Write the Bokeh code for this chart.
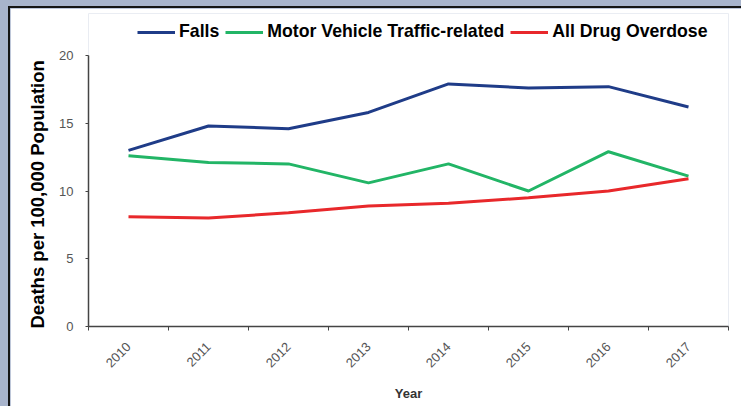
import math
from bokeh.plotting import figure
from bokeh.models import Range1d, FixedTicker, Legend, LegendItem, GlobalInlineStyleSheet, Title
from bokeh.embed import file_html
from bokeh.resources import INLINE

years = [2010, 2011, 2012, 2013, 2014, 2015, 2016, 2017]
falls = [13.0, 14.8, 14.6, 15.8, 17.9, 17.6, 17.7, 16.2]
motor_vehicle = [12.6, 12.1, 12.0, 10.6, 12.0, 10.0, 12.9, 11.1]
drug_overdose = [8.1, 8.0, 8.4, 8.9, 9.1, 9.5, 10.0, 10.9]
series_names = ["Falls", "Motor Vehicle Traffic-related", "All Drug Overdose"]
series_colors = ["#1f3c88", "#22b566", "#e8282b"]
y_ticks = [0, 5, 10, 15, 20]

css = GlobalInlineStyleSheet(css="""
html {
  background:
   linear-gradient(#151515,#151515) 8px 6px/2px 100% no-repeat,
   linear-gradient(#151515,#151515) 8px 6px/100% 2px no-repeat,
   #a8b4cc; }
body { background: transparent; }
""")

p = figure(width=731, height=398, margin=(8, 0, 0, 10),
           output_backend="svg", toolbar_location=None,
           x_range=Range1d(years[0] - 0.5, years[-1] + 0.5), y_range=Range1d(0, 23.1),
           min_border_left=78, min_border_right=13, min_border_top=5, min_border_bottom=80,
           background_fill_color="white", border_fill_color="white",
           stylesheets=[css])
p.outline_line_color = None
p.grid.visible = False

renderers = []
for vals, col in zip([falls, motor_vehicle, drug_overdose], series_colors):
    r = p.line(years, vals, line_color=col, line_width=3)
    renderers.append(r)

# x axis: labels at category centres, tick marks at category boundaries
xa = p.xaxis[0]
xa.ticker = FixedTicker(ticks=years, minor_ticks=[y - 0.5 for y in years] + [years[-1] + 0.5])
xa.major_tick_line_color = None
xa.major_tick_out = 0
xa.major_tick_in = 0
xa.minor_tick_line_color = "#444444"
xa.minor_tick_out = 4
xa.minor_tick_in = 0
xa.axis_line_color = "#444444"
xa.axis_line_width = 1.5
xa.major_label_orientation = math.pi / 4
xa.major_label_text_font = "Liberation Sans"
xa.major_label_text_font_size = "13px"
xa.major_label_text_color = "#555555"
xa.major_label_standoff = 14
xa.axis_label = "Year"
xa.axis_label_text_font = "Liberation Sans"
xa.axis_label_text_font_style = "bold"
xa.axis_label_text_font_size = "13px"
xa.axis_label_text_color = "#333333"
xa.axis_label_standoff = 12

ya = p.yaxis[0]
ya.ticker = FixedTicker(ticks=y_ticks)
ya.bounds = (y_ticks[0], y_ticks[-1])
ya.minor_tick_line_color = None
ya.major_tick_line_color = "#444444"
ya.major_tick_out = 3
ya.major_tick_in = 0
ya.axis_line_color = "#444444"
ya.axis_line_width = 1.5
ya.major_label_text_font = "Liberation Sans"
ya.major_label_text_font_size = "13px"
ya.major_label_text_color = "#555555"
ya.major_label_standoff = 12

# y-axis title, anchored at the bottom of the frame so it spans the 0-20 axis
ytitle = Title(text="Deaths per 100,000 Population", align="left", offset=-2, standoff=18,
               text_font="Liberation Sans", text_font_style="bold",
               text_font_size="18.5px", text_color="#000000")
p.add_layout(ytitle, "left")

legend = Legend(items=[LegendItem(label=n, renderers=[r]) for n, r in zip(series_names, renderers)],
                orientation="horizontal", location=(49, 284))
legend.glyph_width = 38
legend.glyph_height = 18
legend.label_standoff = 4
legend.spacing = 6
legend.padding = 0
legend.margin = 0
legend.border_line_color = None
legend.background_fill_alpha = 0
legend.label_text_font = "Liberation Sans"
legend.label_text_font_style = "bold"
legend.label_text_font_size = "17.7px"
legend.label_text_color = "#000000"
p.add_layout(legend, "center")

open("out.html", "w").write(file_html(p, INLINE))
